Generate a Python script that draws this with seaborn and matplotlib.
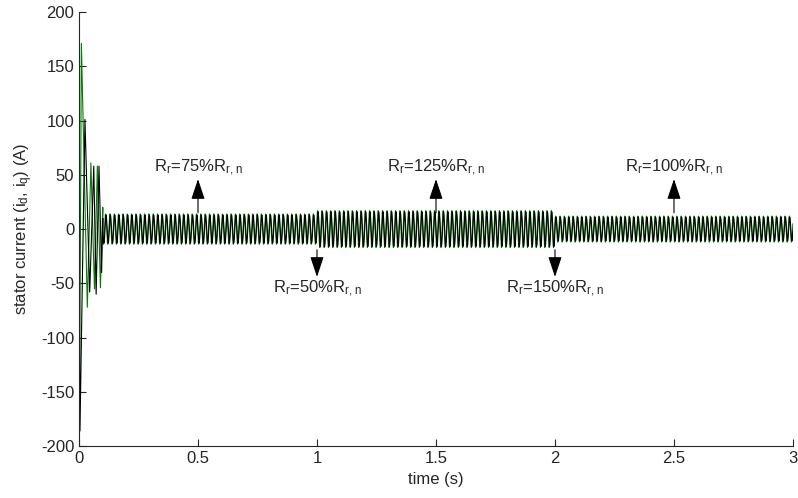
import numpy as np
import pandas as pd
import matplotlib
matplotlib.use("Agg")
import matplotlib.pyplot as plt
import seaborn as sns

# transient peaks (t in s, current in A)
trans_t_d = [0.0, 0.004, 0.025, 0.045, 0.062, 0.072, 0.084, 0.095, 0.100]
trans_i_d = [0.0, -186, 101, -58, 58, -60, 58, -40, 10]
trans_t_q = [0.0, 0.002, 0.010, 0.035, 0.050, 0.065, 0.077, 0.090, 0.100]
trans_i_q = [0.0, -185, 171, -72, 61, -55, 58, -54, 20]

# steady-state segments: start/end time, amplitude of i_d and i_q (A)
seg_start = [0.1, 1.0, 2.0]
seg_end = [1.0, 2.0, 3.0]
amp_d = [13.0, 16.0, 11.0]
amp_q = [14.0, 17.0, 12.0]
freq_hz = 55

# annotations: time of change, label, direction
ann_t = [0.5, 1.0, 1.5, 2.0, 2.5]
ann_pct = ["75", "50", "125", "150", "100"]
ann_up = [True, False, True, False, True]

frames = []
for name, tt, ii in [("id", trans_t_d, trans_i_d), ("iq", trans_t_q, trans_i_q)]:
    frames.append(pd.DataFrame({"t": tt, "i": ii, "sig": name}))
for s, e, ad, aq in zip(seg_start, seg_end, amp_d, amp_q):
    t = np.arange(s, e, 0.0005)
    frames.append(pd.DataFrame({"t": t, "i": ad * np.sin(2 * np.pi * freq_hz * t), "sig": "id"}))
    frames.append(pd.DataFrame({"t": t, "i": aq * np.sin(2 * np.pi * freq_hz * t + 0.6), "sig": "iq"}))
df = pd.concat(frames)
dq = df[df.sig == "iq"].sort_values("t")
dd = df[df.sig == "id"].sort_values("t")

sns.set_style("ticks")
plt.rcParams["font.family"] = ["Liberation Sans", "DejaVu Sans"]
plt.rcParams["mathtext.default"] = "regular"
plt.rcParams["axes.unicode_minus"] = False

fig = plt.figure(figsize=(7.98, 4.98), dpi=100)
ax = fig.add_axes([0.099, 0.104, 0.8947, 0.872])

sns.lineplot(data=dq, x="t", y="i", color="#008000", lw=0.8, ax=ax, estimator=None, sort=False)
sns.lineplot(data=dd, x="t", y="i", color="black", lw=0.8, ax=ax, estimator=None, sort=False)

arrow = dict(arrowstyle="-|>,head_length=1.25,head_width=0.42", color="black", lw=0.8,
             shrinkA=0, shrinkB=0)
for t, p, up in zip(ann_t, ann_pct, ann_up):
    label = "R$_r$=" + p + "%R$_{r,n}$"
    if up:
        ax.annotate("", xy=(t, 46), xytext=(t, 15), arrowprops=arrow)
        ax.text(t, 52.5, label, ha="center", va="baseline", fontsize=12)
    else:
        ax.annotate("", xy=(t, -44), xytext=(t, -19), arrowprops=arrow)
        ax.text(t, -59, label, ha="center", va="baseline", fontsize=12)

ax.set_xlim(0, 3)
ax.set_ylim(-200, 200)
ax.set_xticks([0, 0.5, 1, 1.5, 2, 2.5, 3])
ax.set_xticklabels(["0", "0.5", "1", "1.5", "2", "2.5", "3"])
ax.set_yticks(range(-200, 201, 50))
ax.tick_params(direction="in", length=5, labelsize=12, width=0.8)
ax.set_xlabel("time (s)", fontsize=12)
ax.set_ylabel("stator current (i$_d$, i$_q$) (A)", fontsize=12)
sns.despine(ax=ax)
for sp in ["left", "bottom"]:
    ax.spines[sp].set_linewidth(0.8)

fig.savefig("out.png", dpi=100)
